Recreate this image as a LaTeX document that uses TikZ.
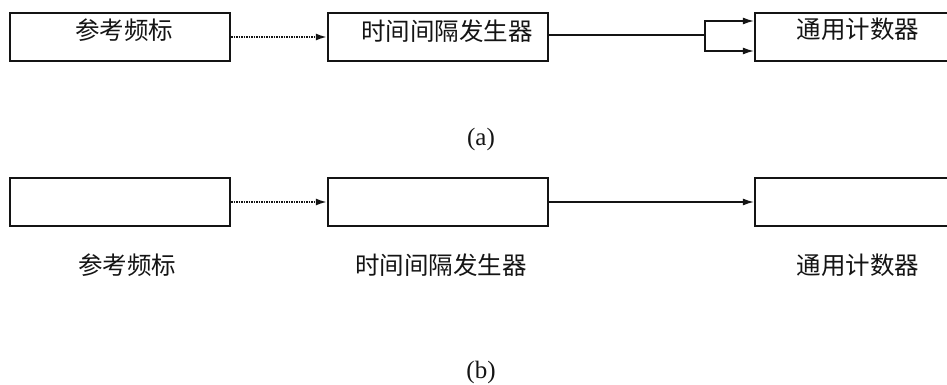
\documentclass[tikz,border=0pt]{standalone}
\usepackage{fontspec}
\setmainfont{Liberation Serif}
\newfontfamily\cjk{Noto Sans CJK SC}
\usetikzlibrary{calc,positioning,arrows.meta}
\definecolor{ink}{HTML}{141414}

\tikzset{
    unitbox/.style={draw=ink, line width=2.4pt, minimum width=220pt, minimum height=48pt, inner sep=0pt},
    cntext/.style={font=\cjk\fontsize{24.5}{28}\selectfont, text=ink, inner sep=0pt},
    sublabel/.style={font=\fontsize{25}{28}\selectfont, text=ink, inner sep=0pt},
    dotlink/.style={draw=ink, line width=1.6pt, dash pattern=on 1.5pt off 1pt, -{Latex[length=11pt,width=7pt]}},
    solidlink/.style={draw=ink, line width=1.1pt, -{Latex[length=11pt,width=7pt]}}
}

\begin{document}
\begin{tikzpicture}[x=1pt, y=1pt]
    \useasboundingbox (0,0) rectangle (947,384);
    \clip (0,0) rectangle (947,384);

    % (a) text inside the boxes
    \node[unitbox] (refA) at (120,347) {};
    \node[unitbox] (genA) at (438,347) {};
    \node[unitbox] (cntA) at (865,347) {};
    \node[cntext] (refAtxt) at ($(refA.center)+(4,7)$) {参考频标};
    \node[cntext] (genAtxt) at ($(genA.center)+(9,6)$) {时间间隔发生器};
    \node[cntext] (cntAtxt) at ($(cntA.center)+(-7,8)$) {通用计数器};

    \draw[dotlink] (refA.east) -- (genA.west);
    \coordinate (split) at (705,349);
    \draw[draw=ink, line width=1.1pt] (genA.east |- split) -- (split);
    \draw[solidlink] (split) |- ($(cntA.west)+(0,16)$);
    \draw[solidlink] (split) |- ($(cntA.west)+(0,-14)$);
    \node[sublabel] (capA) at (481,245) {(a)};

    % (b) text below the boxes
    \node[unitbox] (refB) at (120,182) {};
    \node[unitbox] (genB) at (438,182) {};
    \node[unitbox] (cntB) at (865,182) {};
    \node[cntext] (refBtxt) at ($(refB.center)+(7,-63)$) {参考频标};
    \node[cntext] (genBtxt) at ($(genB.center)+(3,-63)$) {时间间隔发生器};
    \node[cntext] (cntBtxt) at ($(cntB.center)+(-7,-63)$) {通用计数器};

    \draw[dotlink] (refB.east) -- (genB.west);
    \draw[solidlink] (genB.east) -- (cntB.west);
    \node[sublabel] (capB) at (481,12) {(b)};
\end{tikzpicture}
\end{document}
